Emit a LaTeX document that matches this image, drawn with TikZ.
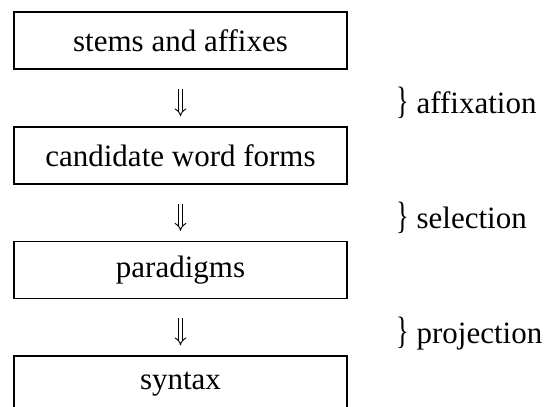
\documentclass[tikz,border=0pt]{standalone}
\usepackage{fontspec}
\setmainfont{Liberation Serif}
\usetikzlibrary{arrows.meta}

\begin{document}
\begin{tikzpicture}[x=1pt,y=1pt,font=\fontsize{31}{36}\selectfont]
\tikzset{etape/.style={draw, line width=1.3pt, minimum width=333pt, minimum height=57pt, inner sep=0pt}}
\tikzset{fleche/.style={double, line width=0.9pt, double distance=3.2pt, -{Implies}, shorten <=19pt, shorten >=10pt}}
\tikzset{etiquette/.style={anchor=base west, inner sep=0pt}}
\useasboundingbox (0,0) rectangle (544,407);
\node[etape] (E1) at (180.5,366.5) {stems and affixes};
\node[etape] (E2) at (180.5,251.5) {candidate word forms};
\node[etape] (E3) at (180.5,137) {paradigms};
\node[etape] (E4) at (180.5,22.5) {syntax};
\draw[fleche] (E1) -- (E2);
\draw[fleche] (E2) -- (E3);
\draw[fleche] (E3) -- (E4);
\node[etiquette] (L1) at (396,293) {\scalebox{0.85}[1.23]{\}} affixation};
\node[etiquette] (L2) at (396,178.3) {\scalebox{0.85}[1.23]{\}} selection};
\node[etiquette] (L3) at (396,63.6) {\scalebox{0.85}[1.23]{\}} projection};
\end{tikzpicture}
\end{document}
